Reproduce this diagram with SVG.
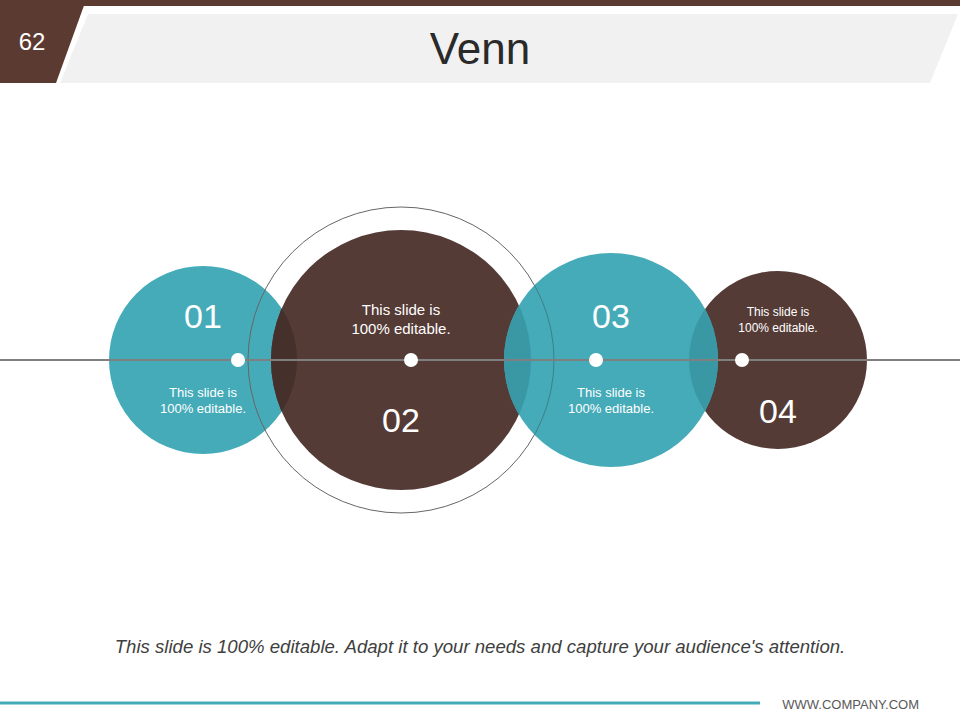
<svg xmlns="http://www.w3.org/2000/svg" width="960" height="720" viewBox="0 0 960 720">
<style>
.t{font-family:"Liberation Sans",Arial,sans-serif;fill:#fff;text-anchor:middle}
.s{font-size:13px}
.n{font-size:34px}
.dot{fill:#fff}
.teal{fill:#45abb9}
.brown{fill:#553b36}
</style>
<defs>
<clipPath id="c1"><circle cx="203" cy="360" r="94"/></clipPath>
<clipPath id="c3"><circle cx="611" cy="360" r="107"/></clipPath>
</defs>
<rect width="960" height="720" fill="#fff"/>
<g id="header">
<rect x="0" y="0" width="960" height="6" fill="#5b3a31"/>
<polygon points="0,0 86,0 56,83 0,83" fill="#5b3a31"/>
<polygon points="88,14 958,14 930,83 60,83" fill="#f1f1f1"/>
<text x="32" y="50" class="t" style="font-size:24px">62</text>
<text x="480" y="64" style="font-family:'Liberation Sans',Arial,sans-serif;font-size:44px;fill:#2a2a2a;text-anchor:middle">Venn</text>
</g>
<g id="node1"><circle class="teal" cx="203" cy="360" r="94"/></g>
<g id="node2"><circle class="brown" cx="401" cy="360" r="130"/>
<circle cx="401" cy="360" r="130" fill="#45302c" clip-path="url(#c1)"/>
<circle cx="401" cy="360" r="153" fill="none" stroke="#666" stroke-width="1"/></g>
<g id="node4"><circle class="brown" cx="778" cy="360" r="89"/></g>
<g id="node3"><circle class="teal" cx="611" cy="360" r="107"/>
<circle cx="401" cy="360" r="130" fill="#3a98a5" clip-path="url(#c3)"/>
<circle cx="778" cy="360" r="89" fill="#3a98a5" clip-path="url(#c3)"/>
<circle cx="401" cy="360" r="153" fill="none" stroke="#3f7f88" stroke-width="1" clip-path="url(#c3)"/></g>
<g id="connectors">
<line x1="0" y1="360" x2="960" y2="360" stroke="#7f7f7f" stroke-width="2"/>
</g>
<g id="labels">
<circle class="dot" cx="238" cy="360" r="7"/>
<circle class="dot" cx="411" cy="360" r="7"/>
<circle class="dot" cx="596" cy="360" r="7"/>
<circle class="dot" cx="742" cy="360" r="7"/>
<text x="203" y="328" class="t n">01</text>
<text x="203" y="397" class="t s">This slide is</text>
<text x="203" y="413" class="t s">100% editable.</text>
<text x="401" y="315" class="t" style="font-size:15px">This slide is</text>
<text x="401" y="334" class="t" style="font-size:15px">100% editable.</text>
<text x="401" y="432" class="t n">02</text>
<text x="611" y="328" class="t n">03</text>
<text x="611" y="397" class="t s">This slide is</text>
<text x="611" y="413" class="t s">100% editable.</text>
<text x="778" y="316" class="t" style="font-size:12px">This slide is</text>
<text x="778" y="332" class="t" style="font-size:12px">100% editable.</text>
<text x="778" y="423" class="t n">04</text>
</g>
<g id="footer">
<text x="480" y="653" style="font-family:'Liberation Sans',Arial,sans-serif;font-size:18.6px;font-style:italic;fill:#404040;text-anchor:middle">This slide is 100% editable. Adapt it to your needs and capture your audience's attention.</text>
<line x1="0" y1="703" x2="760" y2="703" stroke="#45abb9" stroke-width="3"/>
<text x="919" y="709" style="font-family:'Liberation Sans',Arial,sans-serif;font-size:13px;fill:#595959;text-anchor:end">WWW.COMPANY.COM</text>
</g>
</svg>
